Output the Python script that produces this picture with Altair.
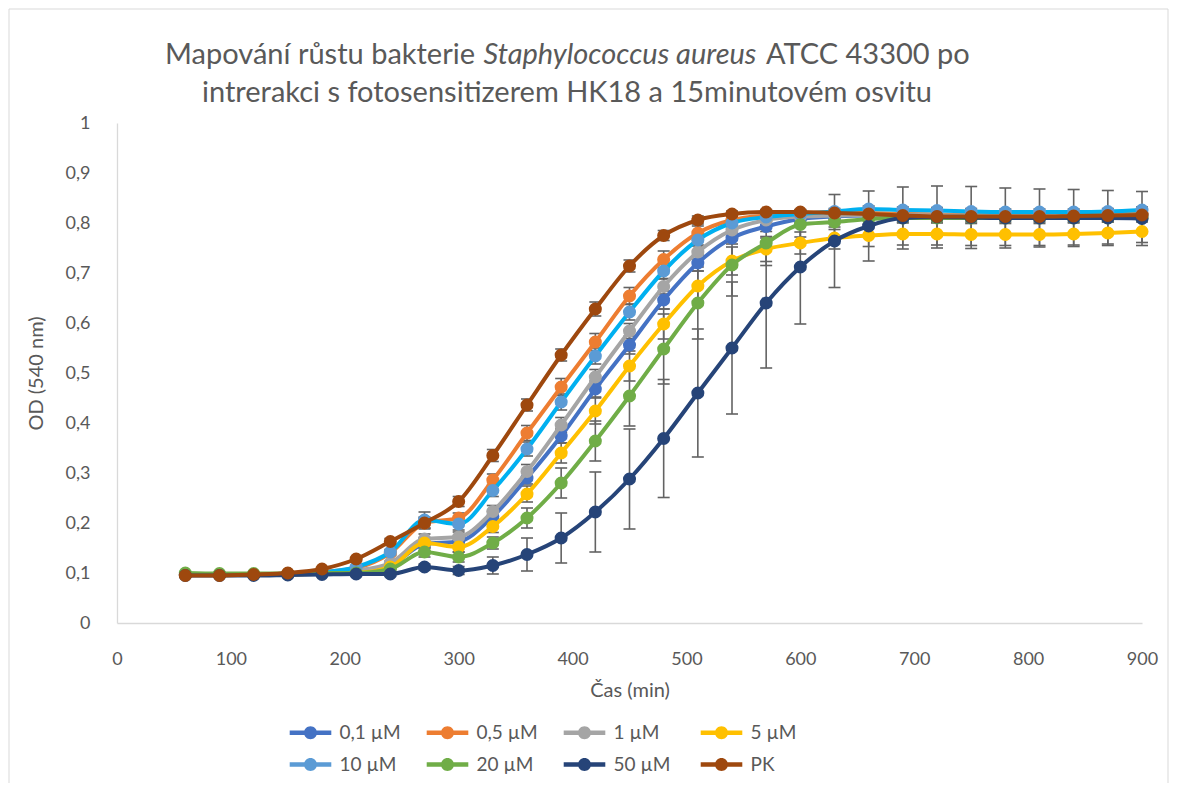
import altair as alt
import pandas as pd

# ---------------- data ----------------
times = list(range(60, 901, 30))  # Čas (min)

series_names = ["0,1 µM", "0,5 µM", "1 µM", "5 µM", "10 µM", "20 µM", "50 µM", "PK"]
line_colors = ["#4472C4", "#ED7D31", "#A5A5A5", "#FFC000", "#00B0F0", "#70AD47", "#264478", "#9E480E"]
marker_colors = ["#4472C4", "#ED7D31", "#A5A5A5", "#FFC000", "#5B9BD5", "#70AD47", "#264478", "#9E480E"]

od_01 = [0.097, 0.097, 0.097, 0.098, 0.100, 0.103, 0.115, 0.158, 0.163, 0.213, 0.290, 0.374, 0.468, 0.556, 0.646,
         0.720, 0.770, 0.793, 0.808, 0.813, 0.815, 0.815, 0.815, 0.814, 0.814, 0.814, 0.815, 0.815, 0.816]
od_05 = [0.097, 0.097, 0.097, 0.099, 0.102, 0.110, 0.140, 0.200, 0.210, 0.286, 0.380, 0.472, 0.562, 0.654, 0.727,
         0.780, 0.806, 0.815, 0.818, 0.820, 0.820, 0.818, 0.817, 0.816, 0.816, 0.816, 0.817, 0.818, 0.818]
od_1 = [0.097, 0.097, 0.097, 0.098, 0.100, 0.105, 0.120, 0.168, 0.172, 0.223, 0.303, 0.396, 0.492, 0.584, 0.673,
        0.742, 0.786, 0.806, 0.813, 0.815, 0.816, 0.816, 0.815, 0.815, 0.815, 0.815, 0.815, 0.816, 0.816]
od_5 = [0.097, 0.097, 0.097, 0.097, 0.099, 0.100, 0.112, 0.160, 0.152, 0.193, 0.258, 0.340, 0.424, 0.514, 0.598,
        0.674, 0.724, 0.748, 0.760, 0.770, 0.775, 0.778, 0.778, 0.777, 0.777, 0.777, 0.778, 0.780, 0.783]
od_10 = [0.097, 0.097, 0.097, 0.098, 0.101, 0.112, 0.142, 0.206, 0.198, 0.265, 0.348, 0.442, 0.534, 0.622, 0.704,
         0.766, 0.800, 0.812, 0.818, 0.823, 0.828, 0.826, 0.825, 0.823, 0.822, 0.822, 0.822, 0.823, 0.826]
od_20 = [0.100, 0.099, 0.099, 0.099, 0.100, 0.100, 0.108, 0.142, 0.132, 0.160, 0.210, 0.280, 0.364, 0.454, 0.548,
         0.640, 0.716, 0.760, 0.797, 0.802, 0.808, 0.810, 0.810, 0.810, 0.810, 0.810, 0.810, 0.810, 0.810]
od_50 = [0.095, 0.095, 0.095, 0.096, 0.097, 0.098, 0.098, 0.112, 0.105, 0.115, 0.137, 0.170, 0.222, 0.288, 0.369,
         0.460, 0.550, 0.640, 0.712, 0.764, 0.794, 0.810, 0.812, 0.811, 0.810, 0.810, 0.810, 0.810, 0.809]
od_pk = [0.095, 0.095, 0.097, 0.100, 0.108, 0.128, 0.163, 0.200, 0.243, 0.335, 0.436, 0.536, 0.628, 0.714, 0.775,
         0.806, 0.818, 0.822, 0.822, 0.820, 0.818, 0.815, 0.813, 0.813, 0.813, 0.813, 0.814, 0.815, 0.816]

err_01 = [0.002, 0.002, 0.002, 0.002, 0.002, 0.002, 0.004, 0.008, 0.008, 0.010, 0.012, 0.014, 0.016, 0.018, 0.018,
          0.016, 0.012, 0.010, 0.008, 0.006, 0.006, 0.006, 0.006, 0.006, 0.006, 0.006, 0.006, 0.006, 0.006]
err_05 = [0.002, 0.002, 0.002, 0.002, 0.002, 0.002, 0.005, 0.010, 0.010, 0.012, 0.015, 0.017, 0.017, 0.017, 0.017,
          0.014, 0.010, 0.008, 0.006, 0.006, 0.006, 0.006, 0.006, 0.006, 0.006, 0.006, 0.006, 0.006, 0.006]
err_1 = [0.002, 0.002, 0.002, 0.002, 0.002, 0.002, 0.004, 0.010, 0.010, 0.012, 0.014, 0.015, 0.015, 0.015, 0.015,
         0.014, 0.012, 0.010, 0.008, 0.006, 0.006, 0.006, 0.006, 0.006, 0.006, 0.006, 0.006, 0.006, 0.006]
err_5 = [0.002, 0.002, 0.002, 0.002, 0.002, 0.002, 0.004, 0.010, 0.010, 0.012, 0.016, 0.020, 0.026, 0.030, 0.030,
         0.030, 0.028, 0.025, 0.022, 0.022, 0.022, 0.022, 0.022, 0.022, 0.022, 0.022, 0.022, 0.022, 0.022]
err_10 = [0.002, 0.002, 0.002, 0.002, 0.002, 0.002, 0.005, 0.016, 0.012, 0.012, 0.014, 0.016, 0.016, 0.016, 0.015,
          0.012, 0.010, 0.008, 0.006, 0.006, 0.006, 0.006, 0.006, 0.006, 0.006, 0.006, 0.006, 0.006, 0.006]
err_20 = [0.002, 0.002, 0.002, 0.002, 0.002, 0.002, 0.004, 0.010, 0.010, 0.012, 0.020, 0.030, 0.040, 0.060, 0.070,
          0.072, 0.062, 0.045, 0.025, 0.015, 0.010, 0.008, 0.008, 0.008, 0.008, 0.008, 0.008, 0.008, 0.008]
err_50 = [0.002, 0.002, 0.002, 0.002, 0.003, 0.003, 0.004, 0.006, 0.008, 0.017, 0.033, 0.050, 0.080, 0.100, 0.118,
          0.128, 0.132, 0.130, 0.114, 0.093, 0.070, 0.062, 0.062, 0.062, 0.060, 0.058, 0.057, 0.055, 0.054]
err_pk = [0.002, 0.002, 0.002, 0.002, 0.002, 0.002, 0.006, 0.012, 0.010, 0.012, 0.012, 0.012, 0.014, 0.012, 0.010,
          0.008, 0.006, 0.005, 0.005, 0.005, 0.005, 0.005, 0.005, 0.005, 0.005, 0.005, 0.005, 0.005, 0.005]

all_od = [od_01, od_05, od_1, od_5, od_10, od_20, od_50, od_pk]
all_err = [err_01, err_05, err_1, err_5, err_10, err_20, err_50, err_pk]

rows = []
for name, vals, errs in zip(series_names, all_od, all_err):
    for t, v, e in zip(times, vals, errs):
        rows.append({"cas": t, "od": v, "lo": v - e, "hi": v + e, "serie": name})
df = pd.DataFrame(rows)

# ---------------- style ----------------
FONT = "Lato"
TXT = "#595959"
AXC = "#D9D9D9"
ERRC = "#636363"

x_axis = alt.Axis(values=list(range(0, 901, 100)), title="Čas (min)", grid=False, ticks=False,
                  domainColor=AXC, domainWidth=1.3, labelFont=FONT, labelFontSize=18, labelColor=TXT,
                  labelPadding=27, labelFlush=False, titleFont=FONT, titleFontSize=20, titleColor=TXT,
                  titleFontWeight="normal", titlePadding=12)
y_axis = alt.Axis(values=[i / 10 for i in range(0, 11)], title="OD (540 nm)", grid=False, ticks=False,
                  domainColor=AXC, domainWidth=1.3, labelFont=FONT, labelFontSize=18, labelColor=TXT,
                  labelPadding=27, labelFlush=False,
                  labelExpr="replace(format(datum.value, '.1~f'), '.', ',')",
                  titleFont=FONT, titleFontSize=20, titleColor=TXT, titleFontWeight="normal",
                  titlePadding=19)

x_scale = alt.Scale(domain=[0, 900], nice=False)
y_scale = alt.Scale(domain=[0, 1], nice=False)


def X():
    return alt.X("cas:Q", scale=x_scale, axis=x_axis)


def Y(field):
    return alt.Y(f"{field}:Q", scale=y_scale, axis=y_axis)


# legend symbol: a line segment with a circular marker on it
LEG_SYMBOL = ("M-3.2,-0.33L3.2,-0.33L3.2,0.33L-3.2,0.33Z"
              "M1,0A1,1,0,1,1,-1,0A1,1,0,1,1,1,0Z")
leg = alt.Legend(title=None, orient="none", legendX=184, legendY=600, columns=4,
                 direction="horizontal", symbolType=LEG_SYMBOL, symbolSize=169,
                 symbolStrokeWidth=0, labelFont=FONT, labelFontSize=19, labelColor=TXT,
                 labelOffset=19.5, columnPadding=25, rowPadding=12, gridAlign="all", padding=0)

base = alt.Chart(df)

err_rule = base.mark_rule(color=ERRC, strokeWidth=1.6).encode(x=X(), y=Y("lo"), y2="hi:Q")
err_lo = base.mark_tick(orient="horizontal", size=12, thickness=1.6, color=ERRC, opacity=1).encode(
    x=X(), y=Y("lo"))
err_hi = base.mark_tick(orient="horizontal", size=12, thickness=1.6, color=ERRC, opacity=1).encode(
    x=X(), y=Y("hi"))

layers = [err_rule, err_lo, err_hi]
for name in series_names:
    sub = base.transform_filter(alt.datum.serie == name)
    line = sub.mark_line(strokeWidth=4, interpolate="monotone", strokeCap="round",
                         strokeJoin="round").encode(
        x=X(), y=Y("od"),
        stroke=alt.Stroke("serie:N", scale=alt.Scale(domain=series_names, range=line_colors),
                          legend=None))
    pts = sub.mark_point(filled=True, size=170, opacity=1).encode(
        x=X(), y=Y("od"),
        fill=alt.Fill("serie:N", scale=alt.Scale(domain=series_names, range=marker_colors),
                      legend=leg))
    layers += [line, pts]

# title (with italic species name)
one = alt.Data(values=[{"k": 1}])
title_props = dict(font=FONT, fontSize=29, color=TXT, baseline="alphabetic")
t1 = alt.Chart(one).mark_text(align="right", **title_props).encode(
    x=alt.value(358), y=alt.value(-59), text=alt.value("Mapování růstu bakterie"))
t2 = alt.Chart(one).mark_text(align="center", fontStyle="italic", **title_props).encode(
    x=alt.value(503), y=alt.value(-59), text=alt.value("Staphylococcus aureus"))
t3 = alt.Chart(one).mark_text(align="left", **title_props).encode(
    x=alt.value(649), y=alt.value(-59), text=alt.value("ATCC 43300 po"))
t4 = alt.Chart(one).mark_text(align="center", **title_props).encode(
    x=alt.value(450), y=alt.value(-21),
    text=alt.value("intrerakci s fotosensitizerem HK18 a 15minutovém osvitu"))

border = alt.Chart(one).mark_rect(fill="transparent", stroke=AXC, strokeWidth=1).encode(
    x=alt.value(-108), x2=alt.value(1051), y=alt.value(-114), y2=alt.value(664))

chart = alt.layer(border, *layers, t1, t2, t3, t4).resolve_scale(stroke="independent", fill="shared").properties(
    width=1025, height=500,
    autosize=alt.AutoSizeParams(type="none"),
    padding={"left": 109, "top": 115, "right": 27, "bottom": 160},
    background="white",
).configure_view(stroke=None)

chart.save("out.html", embed_options={"renderer": "svg", "actions": False})
